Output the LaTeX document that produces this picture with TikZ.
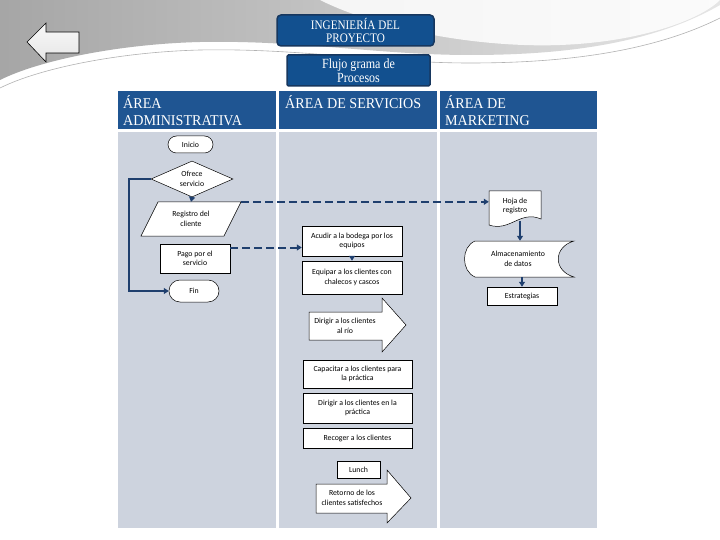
\documentclass[tikz,border=0pt]{standalone}
\usepackage{fontspec}
\setmainfont{Carlito}
\newfontfamily\hdr[FakeStretch=0.94]{Liberation Serif}
\newfontfamily\ttl[FakeStretch=0.86]{Liberation Serif}
\usetikzlibrary{shapes.geometric,arrows.meta,calc}
\definecolor{hdrblue}{HTML}{1F5592}
\definecolor{titleblue}{HTML}{12508F}
\definecolor{navy}{HTML}{17375E}
\definecolor{lane}{HTML}{CDD3DE}
\definecolor{conn}{HTML}{1F3F6E}
\begin{document}
\begin{tikzpicture}[x=1pt,y=-1pt,
  box/.style={draw=black, line width=0.5pt, fill=white, font=\fontsize{7.8}{9.5}\selectfont, align=center, inner sep=1pt},
  term/.style={box, rounded corners=8.5pt},
  lbl/.style={font=\fontsize{7.8}{9.5}\selectfont, align=center, inner sep=1pt},
  shp/.style={draw=black, line width=0.5pt, fill=white},
  flow/.style={draw=conn, line width=2pt, -{Triangle[length=5pt,width=6pt]}},
  dflow/.style={flow, dash pattern=on 8pt off 4pt},
  hdrtext/.style={text=white, font=\hdr\fontsize{15}{17}\selectfont, align=left, anchor=north west, inner sep=0pt},
  titlebox/.style={fill=titleblue, draw=navy, line width=1.5pt, text=white, align=center, inner sep=1pt},
]
\useasboundingbox (0,0) rectangle (720,540);
\fill[white] (0,0) rectangle (720,540);
% background swoosh
\shade[left color=gray!70, right color=gray!20]
  (0,0) -- (720,0) -- (720,5) .. controls (650,45) and (560,55) .. (470,55)
  .. controls (380,55) and (300,40) .. (200,42) .. controls (120,44) and (40,60) .. (0,80) -- cycle;
\fill[white, opacity=0.85] (320,0) .. controls (380,30) and (480,48) .. (560,45)
  .. controls (640,42) and (700,20) .. (720,0) -- cycle;
\draw[white, line width=1.5pt] (0,84) .. controls (40,64) and (120,48) .. (200,46)
  .. controls (300,44) and (380,59) .. (470,59) .. controls (560,59) and (650,49) .. (720,12);
\draw[gray!60, line width=0.6pt] (0,88) .. controls (40,68) and (120,52) .. (200,50)
  .. controls (300,48) and (380,63) .. (470,63) .. controls (560,63) and (650,53) .. (720,18);

% back arrow
\draw[black, line width=0.6pt, top color=gray!5, bottom color=gray!20]
  (27,42) -- (46,23) -- (46,32) -- (79,32) -- (79,53) -- (46,53) -- (46,62) -- cycle;

% title boxes
\node[titlebox, rounded corners=4pt, minimum width=157pt, minimum height=31pt,
  font=\ttl\fontsize{13}{13}\selectfont] (title) at (355.5,30.5) {INGENIERÍA DEL\\PROYECTO};
\node[titlebox, rounded corners=1.5pt, minimum width=143pt, minimum height=31pt,
  font=\ttl\fontsize{14}{14}\selectfont] (flujo) at (358.5,70.5) {Flujo grama de\\Procesos};

% lanes
\fill[hdrblue] (118,91) rectangle (276,129);
\fill[hdrblue] (279,91) rectangle (437,129);
\fill[hdrblue] (440,91) rectangle (597,129);
\fill[lane] (118,132) rectangle (276,528);
\fill[lane] (279,132) rectangle (437,528);
\fill[lane] (440,132) rectangle (597,528);
\node[hdrtext] (h1) at (123,95) {ÁREA\\ADMINISTRATIVA};
\node[hdrtext] (h2) at (285,95) {ÁREA DE SERVICIOS};
\node[hdrtext] (h3) at (445,95) {ÁREA DE\\MARKETING};

% administrative lane
\node[term, minimum width=45pt, minimum height=17pt] (inicio) at (190.5,144.5) {Inicio};
\node[box, diamond, aspect=2.28, minimum width=82pt, minimum height=36pt, inner sep=0pt] (diam) at (192,179) {Ofrece\\servicio};
\draw[shp] (141,236) -- (158,202) -- (241,202) -- (224,236) -- cycle;
\node[lbl, minimum width=100pt, minimum height=34pt] (reg) at (191,219) {Registro del\\cliente};
\node[box, minimum width=70pt, minimum height=29pt] (pago) at (195,258.5) {Pago por el\\servicio};
\node[term, rounded corners=11pt, minimum width=50pt, minimum height=22pt] (fin) at (194,291) {Fin};

% services lane
\node[box, minimum width=100pt, minimum height=30pt] (acudir) at (352,241) {Acudir a la bodega por los\\equipos};
\node[box, minimum width=100pt, minimum height=33pt] (equipar) at (352,277.5) {Equipar a los clientes con\\chalecos y cascos};
\draw[shp] (309,312) -- (382,312) -- (382,298) -- (406,325) -- (382,352) -- (382,340) -- (309,340) -- cycle;
\node[lbl] (rio) at (345,326) {Dirigir a los clientes\\al río};
\node[box, minimum width=109pt, minimum height=28pt] (cap) at (357.5,374) {Capacitar a los clientes para\\la práctica};
\node[box, minimum width=109pt, minimum height=30pt] (dirp) at (357.5,408) {Dirigir a los clientes en la\\práctica};
\node[box, minimum width=109pt, minimum height=20pt] (rec) at (357.5,438) {Recoger a los clientes};
\node[box, minimum width=43pt, minimum height=17pt] (lunch) at (358.5,469.5) {Lunch};
\draw[shp] (316,484) -- (387,484) -- (387,470) -- (411,498) -- (387,523) -- (387,513) -- (316,513) -- cycle;
\node[lbl] (ret) at (352,498) {Retorno de los\\clientes satisfechos};

% marketing lane
\draw[shp] (489,191) -- (541,191) -- (541,219) .. controls (520,210) and (510,232) .. (489,225) -- cycle;
\node[lbl, minimum width=52pt, minimum height=30pt] (hoja) at (515,206) {Hoja de\\registro};
\draw[shp] (475,241) -- (574,241) .. controls (553,247) and (553,271) .. (574,277) -- (475,277)
  .. controls (461,271) and (461,247) .. (475,241) -- cycle;
\node[lbl, minimum width=108pt, minimum height=36pt] (alm) at (518,259) {Almacenamiento\\de datos};
\node[box, minimum width=70pt, minimum height=18pt] (estr) at (522,296) {Estrategias};

% connectors
\draw[flow] (diam.south) -- (reg.north);
\draw[flow] (diam.west) -- ++(-22,0) |- (fin.west);
\draw[dflow] (reg.north east) -- (reg.north east -| hoja.west);
\coordinate (pagoout) at ($(pago.east)+(0,-11)$);
\draw[dflow] (pagoout) -- (pagoout -| acudir.west);
\draw[flow] (acudir.south) -- (equipar.north);
\coordinate (hojaout) at (520,221);
\draw[flow] (hojaout) -- (hojaout |- alm.north);
\draw[flow] (alm.south -| estr.north) -- (estr.north);
\end{tikzpicture}
\end{document}
